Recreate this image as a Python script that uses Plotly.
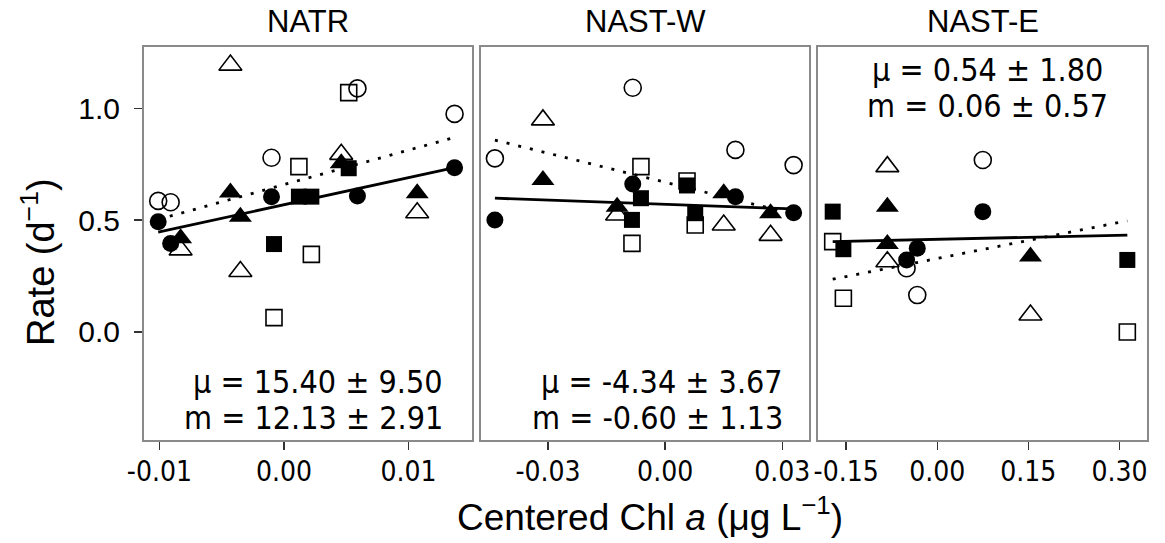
import plotly.graph_objects as go

# ---------------- data ----------------
panels = ["NATR", "NAST-W", "NAST-E"]

# NATR
natr_circ_x = [-0.0101, -0.0091, -0.0010, 0.0059, 0.0137]
natr_circ_filled = [0.493, 0.396, 0.605, 0.608, 0.734]
natr_circ_open = [0.586, 0.580, 0.779, 1.089, 0.975]
natr_sq_x = [-0.0008, 0.0012, 0.0022, 0.0052]
natr_sq_filled = [0.393, 0.605, 0.605, 0.732]
natr_sq_open = [0.064, 0.739, 0.347, 1.070]
natr_tri_x = [-0.0083, -0.0043, -0.0035, 0.0046, 0.0107]
natr_tri_filled = [0.419, 0.623, 0.515, 0.754, 0.620]
natr_tri_open = [0.367, 1.193, 0.270, 0.794, 0.533]
natr_fit_x = [-0.0101, 0.0137]
natr_fit_solid = [0.446, 0.735]
natr_fit_dotted = [0.503, 0.870]

# NAST-W
nastw_circ_x = [-0.0436, -0.0083, 0.0180, 0.0329]
nastw_circ_filled = [0.501, 0.662, 0.605, 0.533]
nastw_circ_open = [0.776, 1.092, 0.814, 0.746]
nastw_sq_x = [-0.0085, -0.0062, 0.0056, 0.0077]
nastw_sq_filled = [0.501, 0.598, 0.655, 0.531]
nastw_sq_open = [0.396, 0.739, 0.675, 0.478]
nastw_tri_x = [-0.0313, -0.0123, 0.0150, 0.0270]
nastw_tri_filled = [0.679, 0.560, 0.620, 0.531]
nastw_tri_open = [0.948, 0.523, 0.478, 0.432]
nastw_fit_x = [-0.0436, 0.0329]
nastw_fit_solid = [0.598, 0.550]
nastw_fit_dotted = [0.858, 0.527]

# NAST-E
naste_circ_x = [-0.0505, -0.0329, 0.0750]
naste_circ_filled = [0.322, 0.374, 0.538]
naste_circ_open = [0.285, 0.165, 0.769]
naste_sq_x = [-0.1722, -0.1546, 0.3130]
naste_sq_filled = [0.538, 0.370, 0.322]
naste_sq_open = [0.404, 0.151, 0.000]
naste_tri_x = [-0.0822, -0.0822, 0.1535]
naste_tri_filled = [0.560, 0.393, 0.337]
naste_tri_open = [0.739, 0.314, 0.076]
naste_fit_x = [-0.1722, 0.3130]
naste_fit_solid = [0.404, 0.433]
naste_fit_dotted = [0.236, 0.497]

mu_labels = ["μ = 15.40 ± 9.50", "μ = -4.34 ± 3.67", "μ = 0.54 ± 1.80"]
m_labels = ["m = 12.13 ± 2.91", "m = -0.60 ± 1.13", "m = 0.06 ± 0.57"]

x_tickvals = [[-0.01, 0.0, 0.01], [-0.03, 0.0, 0.03], [-0.15, 0.0, 0.15, 0.30]]
x_ticktext = [["-0.01", "0.00", "0.01"], ["-0.03", "0.00", "0.03"],
              ["-0.15", "0.00", "0.15", "0.30"]]
y_tickvals = [0.0, 0.5, 1.0]
y_ticktext = ["0.0", "0.5", "1.0"]

# ---------------- figure ----------------
W, H = 1165, 543


def px(p):
    return p / W


def py(p):
    return 1 - p / H


fig = go.Figure()

data = [
    (natr_circ_x, natr_circ_filled, natr_circ_open, natr_sq_x, natr_sq_filled, natr_sq_open,
     natr_tri_x, natr_tri_filled, natr_tri_open, natr_fit_x, natr_fit_solid, natr_fit_dotted),
    (nastw_circ_x, nastw_circ_filled, nastw_circ_open, nastw_sq_x, nastw_sq_filled, nastw_sq_open,
     nastw_tri_x, nastw_tri_filled, nastw_tri_open, nastw_fit_x, nastw_fit_solid, nastw_fit_dotted),
    (naste_circ_x, naste_circ_filled, naste_circ_open, naste_sq_x, naste_sq_filled, naste_sq_open,
     naste_tri_x, naste_tri_filled, naste_tri_open, naste_fit_x, naste_fit_solid, naste_fit_dotted),
]

OPEN_LW = 1.6
for i, d in enumerate(data):
    (cx, cf, co, sx, sf, so, tx, tf, to, fx, fs, fd) = d
    xa = "x" if i == 0 else f"x{i+1}"
    ya = "y" if i == 0 else f"y{i+1}"

    def add(x, y, symbol, size, lw):
        fig.add_trace(go.Scatter(x=x, y=y, mode="markers", xaxis=xa, yaxis=ya,
                                 showlegend=False, hoverinfo="skip",
                                 marker=dict(symbol=symbol, size=size, color="black",
                                             line=dict(color="black", width=lw))))
    add(cx, co, "circle-open", 17, OPEN_LW)
    add(sx, so, "square-open", 16, OPEN_LW)
    add(tx, to, "triangle-up-open", 20, OPEN_LW)
    add(cx, cf, "circle", 17, 0)
    add(sx, sf, "square", 16, 0)
    add(tx, tf, "triangle-up", 20, 0)
    fig.add_trace(go.Scatter(x=fx, y=fs, mode="lines", xaxis=xa, yaxis=ya, showlegend=False,
                             hoverinfo="skip", line=dict(color="black", width=2.8)))
    fig.add_trace(go.Scatter(x=fx, y=fd, mode="lines", xaxis=xa, yaxis=ya, showlegend=False,
                             hoverinfo="skip",
                             line=dict(color="black", width=2.8, dash="3px,9px")))

x_ranges = [[-0.01124, 0.0151], [-0.04716, 0.03684], [-0.1964, 0.3454]]
y_range = [-0.483, 1.274]
x_px = [(144, 472), (481, 809), (818, 1147)]
y_px = (47, 440)

tick_font = dict(family="DejaVu Sans Condensed, DejaVu Sans", size=28, color="black")
border = "#8a8a8a"

for i in range(3):
    sfx = "" if i == 0 else str(i + 1)
    fig.layout["xaxis" + sfx] = dict(
        domain=[px(x_px[i][0]), px(x_px[i][1])], range=x_ranges[i],
        anchor="y" + sfx, showgrid=False, zeroline=False, automargin=False,
        showline=True, linecolor=border, linewidth=2, mirror=True,
        ticks="outside", ticklen=8, tickwidth=1.5, tickcolor="#333333",
        tickvals=x_tickvals[i], ticktext=x_ticktext[i], tickfont=tick_font,
        ticklabelstandoff=-3,
    )
    fig.layout["yaxis" + sfx] = dict(
        domain=[py(y_px[1]), py(y_px[0])], range=y_range,
        anchor="x" + sfx, showgrid=False, zeroline=False, automargin=False,
        showline=True, linecolor=border, linewidth=2, mirror=True,
        ticks="outside" if i == 0 else "", ticklen=8, tickwidth=1.5, tickcolor="#333333",
        tickvals=y_tickvals, ticktext=y_ticktext, showticklabels=(i == 0),
        tickfont=dict(family="Liberation Sans, Arial", size=30, color="black"),
        ticklabelstandoff=8,
    )

ann_font = dict(family="DejaVu Sans Condensed, DejaVu Sans", size=32, color="black")
title_font = dict(family="Liberation Sans, Arial", size=31, color="black")
annotations = []
for i in range(3):
    cx = (x_px[i][0] + x_px[i][1]) / 2
    annotations.append(dict(text=panels[i], x=px(cx), y=py(21), xref="paper", yref="paper",
                            xanchor="center", yanchor="middle", showarrow=False, font=title_font))

# stat labels
stat_pos = [(445, 382, 418, "right"), (785, 382, 418, "right"), (987, 70, 106, "center")]
for i, (xr, y1, y2, anc) in enumerate(stat_pos):
    annotations.append(dict(text=mu_labels[i], x=px(xr), y=py(y1), xref="paper", yref="paper",
                            xanchor=anc, yanchor="middle", showarrow=False, font=ann_font))
    annotations.append(dict(text=m_labels[i], x=px(xr), y=py(y2), xref="paper", yref="paper",
                            xanchor=anc, yanchor="middle", showarrow=False, font=ann_font))

annotations.append(dict(text="Centered Chl <i>a</i> (μg L<sup>−1</sup>)", x=px(650), y=py(514),
                        xref="paper", yref="paper", xanchor="center", yanchor="middle",
                        showarrow=False,
                        font=dict(family="Liberation Sans, Arial", size=37, color="black")))
annotations.append(dict(text="Rate (d<sup>−1</sup>)", x=px(38), y=py(262), textangle=-90,
                        xref="paper", yref="paper", xanchor="center", yanchor="middle",
                        showarrow=False,
                        font=dict(family="Liberation Sans, Arial", size=38, color="black")))

fig.update_layout(width=W, height=H,
                  margin=dict(l=0, r=0, t=0, b=0, pad=0, autoexpand=False),
                  paper_bgcolor="white", plot_bgcolor="white", annotations=annotations,
                  showlegend=False)

# remove the browser's default page margin so the figure starts at the window corner
fig.write_html("out.html", config={"displayModeBar": False, "staticPlot": True},
               post_script="document.body.style.margin='0';document.body.style.overflow='hidden';")
